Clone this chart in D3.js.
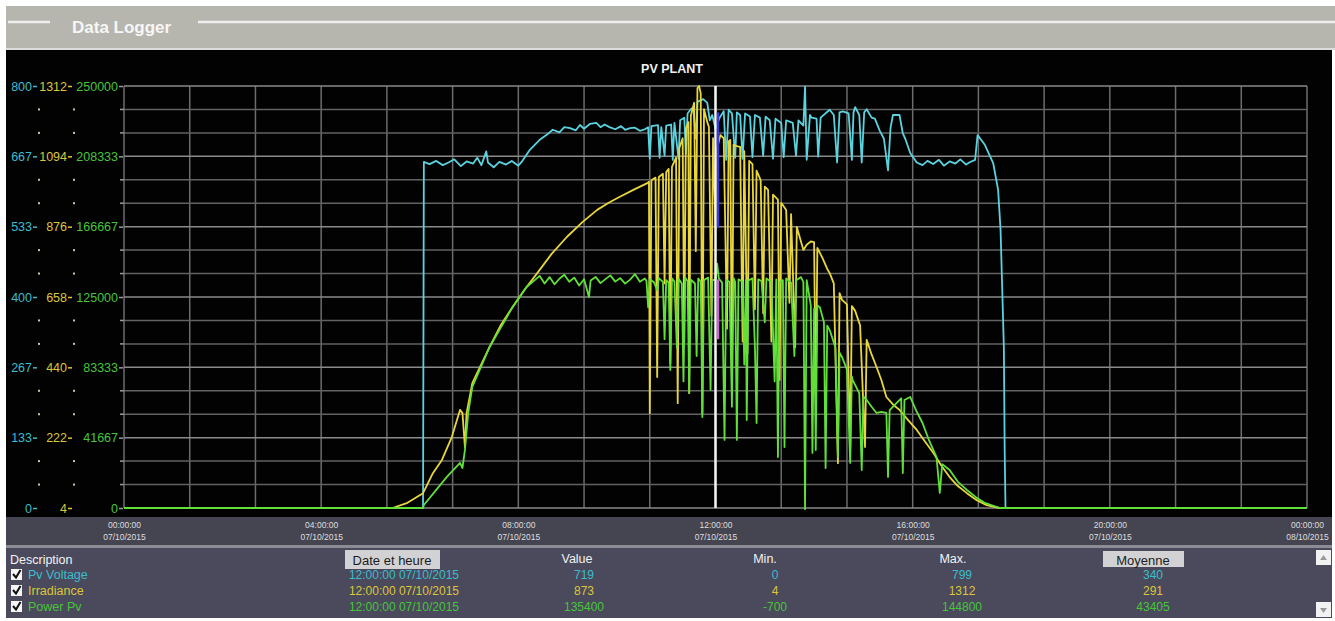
<!DOCTYPE html>
<html>
<head>
<meta charset="utf-8">
<script src="https://cdn.jsdelivr.net/npm/d3@7"></script>
<style>
    body { margin: 0; background: #fff; }
    svg { display: block; font-family: "Liberation Sans", Arial, sans-serif; }
</style>
</head>
<body>
<div id="logger"></div>
<script>
// series, [time, value]
const voltageSeries = [
    ["00:00", 0], ["06:04", 0], ["06:05", 656], ["06:12", 652], ["06:20", 658], ["06:28", 650],
    ["06:35", 655], ["06:42", 661], ["06:50", 648], ["06:57", 657], ["07:05", 653], ["07:10", 664],
    ["07:15", 650], ["07:21", 676], ["07:23", 655], ["07:30", 646], ["07:37", 656], ["07:45", 651],
    ["07:52", 658], ["08:00", 649], ["08:04", 656], ["08:14", 679], ["08:26", 698], ["08:35", 708],
    ["08:42", 717], ["08:50", 712], ["08:56", 722], ["09:03", 720], ["09:10", 716], ["09:15", 726],
    ["09:20", 719], ["09:27", 728], ["09:35", 730], ["09:40", 722], ["09:45", 727], ["09:51", 722],
    ["09:58", 718], ["10:05", 724], ["10:10", 717], ["10:16", 720], ["10:22", 721], ["10:28", 715],
    ["10:34", 718], ["10:38", 722], ["10:40", 662], ["10:42", 724], ["10:50", 726], ["10:52", 664],
    ["10:54", 722], ["10:58", 668], ["11:00", 725], ["11:06", 727], ["11:08", 660], ["11:10", 730],
    ["11:15", 662], ["11:17", 735], ["11:22", 740], ["11:24", 672], ["11:26", 748], ["11:30", 756],
    ["11:33", 760], ["11:36", 700], ["11:38", 770], ["11:45", 775], ["11:50", 768], ["11:53", 735],
    ["11:56", 745], ["12:00", 719], ["12:05", 740], ["12:10", 752], ["12:13", 660], ["12:16", 755],
    ["12:20", 748], ["12:24", 664], ["12:26", 750], ["12:30", 745], ["12:33", 662], ["12:36", 748],
    ["12:42", 742], ["12:45", 665], ["12:48", 745], ["12:54", 740], ["12:58", 668], ["13:01", 742],
    ["13:06", 735], ["13:10", 662], ["13:13", 738], ["13:20", 730], ["13:23", 665], ["13:26", 735],
    ["13:34", 730], ["13:38", 668], ["13:41", 735], ["13:47", 725], ["13:49", 799], ["13:51", 660],
    ["13:55", 745], ["13:57", 740], ["14:03", 738], ["14:05", 666], ["14:08", 740], ["14:19", 755],
    ["14:24", 745], ["14:28", 655], ["14:31", 750], ["14:35", 752], ["14:42", 748], ["14:46", 660],
    ["14:48", 750], ["14:50", 760], ["14:55", 745], ["14:58", 655], ["15:01", 750], ["15:04", 756],
    ["15:10", 740], ["15:14", 738], ["15:20", 715], ["15:25", 700], ["15:30", 640], ["15:33", 720],
    ["15:36", 745], ["15:44", 745], ["15:48", 710], ["15:51", 700], ["15:57", 673], ["16:05", 655],
    ["16:12", 650], ["16:18", 658], ["16:25", 652], ["16:32", 660], ["16:38", 649], ["16:45", 657],
    ["16:52", 653], ["16:58", 661], ["17:05", 651], ["17:10", 656], ["17:16", 660], ["17:19", 707],
    ["17:28", 688], ["17:38", 654], ["17:44", 603], ["17:47", 527], ["17:51", 305], ["17:52", 110],
    ["17:53", 0], ["24:00", 0]
];

const irradianceSeries = [
    ["00:00", 4], ["05:27", 4], ["05:45", 20], ["06:04", 50], ["06:16", 112], ["06:27", 153],
    ["06:39", 224], ["06:49", 308], ["06:52", 298], ["06:55", 193], ["06:57", 298], ["07:04", 391],
    ["07:25", 503], ["07:38", 568], ["07:53", 627], ["08:08", 682], ["08:23", 732], ["08:40", 790],
    ["08:59", 844], ["09:18", 890], ["09:36", 928], ["09:50", 950], ["10:03", 968], ["10:20", 990],
    ["10:37", 1011], ["10:39", 1015], ["10:40", 298], ["10:42", 1020], ["10:47", 1028], ["10:49", 410],
    ["10:51", 1030], ["10:56", 1040], ["10:58", 700], ["11:00", 1045], ["11:03", 1055], ["11:05", 453],
    ["11:07", 1061], ["11:12", 1090], ["11:14", 329], ["11:16", 1120], ["11:20", 1150], ["11:22", 520],
    ["11:24", 1180], ["11:27", 1200], ["11:28", 360], ["11:30", 1220], ["11:34", 1260], ["11:36", 800],
    ["11:38", 1305], ["11:40", 1312], ["11:42", 1290], ["11:44", 298], ["11:46", 1240], ["11:50", 1200],
    ["11:52", 1185], ["11:55", 600], ["11:57", 1150], ["12:00", 873], ["12:02", 1120], ["12:06", 1160],
    ["12:10", 1150], ["12:14", 560], ["12:16", 1140], ["12:18", 1145], ["12:20", 401], ["12:22", 1130],
    ["12:27", 1125], ["12:30", 1123], ["12:33", 520], ["12:35", 1110], ["12:39", 484], ["12:41", 1080],
    ["12:45", 1070], ["12:48", 620], ["12:50", 1050], ["12:55", 1020], ["12:58", 608], ["13:00", 1000],
    ["13:04", 990], ["13:08", 520], ["13:10", 975], ["13:16", 960], ["13:18", 401], ["13:20", 950],
    ["13:26", 928], ["13:30", 640], ["13:32", 915], ["13:37", 503], ["13:39", 875], ["13:44", 830],
    ["13:47", 804], ["13:51", 820], ["13:56", 830], ["14:00", 828], ["14:02", 348], ["14:04", 810],
    ["14:10", 780], ["14:16", 745], ["14:19", 732], ["14:24", 700], ["14:29", 143], ["14:31", 670],
    ["14:34", 649], ["14:40", 635], ["14:44", 193], ["14:46", 630], ["14:50", 615], ["14:56", 570],
    ["15:02", 193], ["15:04", 525], ["15:10", 480], ["15:16", 441], ["15:22", 400], ["15:28", 348],
    ["15:36", 325], ["15:44", 308], ["15:55", 275], ["16:05", 246], ["16:15", 210], ["16:25", 175],
    ["16:35", 135], ["16:45", 100], ["16:55", 72], ["17:06", 50], ["17:18", 28], ["17:30", 13],
    ["17:46", 4], ["24:00", 4]
];

const powerSeries = [
    ["00:00", 0], ["06:04", 0], ["06:05", 1800], ["06:33", 18400], ["06:49", 26700], ["06:52", 23700],
    ["06:55", 34400], ["06:59", 56300], ["07:04", 71700], ["07:25", 95400], ["07:53", 119000],
    ["08:10", 130900], ["08:20", 135000], ["08:26", 137500], ["08:32", 133000], ["08:38", 136800],
    ["08:44", 132500], ["08:50", 135800], ["08:56", 138200], ["09:02", 134000], ["09:08", 136500],
    ["09:14", 131800], ["09:20", 135500], ["09:26", 125000], ["09:28", 134800], ["09:34", 136900],
    ["09:40", 133200], ["09:46", 135600], ["09:52", 137800], ["09:58", 134100], ["10:04", 136200],
    ["10:10", 132900], ["10:16", 135300], ["10:22", 138500], ["10:28", 134000], ["10:34", 136000],
    ["10:36", 134500], ["10:38", 119000], ["10:40", 135500], ["10:45", 133800], ["10:49", 129000],
    ["10:51", 136200], ["10:56", 134000], ["10:58", 100000], ["11:00", 135000], ["11:03", 133500],
    ["11:05", 81750], ["11:07", 136000], ["11:10", 134200], ["11:13", 95000], ["11:15", 135800],
    ["11:19", 133000], ["11:21", 75000], ["11:23", 136500], ["11:26", 134500], ["11:28", 68100],
    ["11:30", 135200], ["11:35", 133000], ["11:37", 90000], ["11:39", 136000], ["11:42", 134000],
    ["11:44", 53900], ["11:46", 135000], ["11:51", 136500], ["11:54", 70000], ["11:56", 134800],
    ["12:00", 135400], ["12:02", 144800], ["12:04", 136000], ["12:08", 133500], ["12:11", 40300],
    ["12:13", 135000], ["12:17", 134000], ["12:20", 60000], ["12:22", 136200], ["12:24", 133800],
    ["12:26", 40300], ["12:28", 135500], ["12:33", 134000], ["12:35", 85000], ["12:37", 135000],
    ["12:38", 52100], ["12:40", 134800], ["12:45", 136000], ["12:48", 95000], ["12:50", 50350],
    ["12:52", 135500], ["12:56", 134500], ["13:00", 110000], ["13:02", 136000], ["13:08", 133800],
    ["13:12", 75000], ["13:14", 135500], ["13:16", 30200], ["13:18", 134000], ["13:22", 135000],
    ["13:24", 36100], ["13:26", 136000], ["13:32", 133500], ["13:36", 90000], ["13:38", 134800],
    ["13:44", 136800], ["13:47", 134000], ["13:49", -700], ["13:51", 135000], ["13:56", 120000],
    ["13:58", 32600], ["14:00", 118000], ["14:02", 34360], ["14:04", 120000], ["14:07", 119000],
    ["14:12", 110000], ["14:14", 23700], ["14:16", 108000], ["14:19", 105400], ["14:26", 95000],
    ["14:29", 30200], ["14:31", 92000], ["14:34", 89450], ["14:40", 82000], ["14:44", 26700],
    ["14:46", 78000], ["14:47", 75800], ["14:55", 68000], ["14:58", 22500], ["15:00", 66000],
    ["15:04", 64000], ["15:10", 60000], ["15:16", 56300], ["15:22", 57000], ["15:28", 56300],
    ["15:30", 18360], ["15:32", 58000], ["15:40", 62000], ["15:46", 65000], ["15:48", 20700],
    ["15:50", 64000], ["15:57", 65760], ["16:05", 57000], ["16:12", 50350], ["16:20", 40000],
    ["16:29", 30200], ["16:33", 8900], ["16:36", 26000], ["16:45", 22500], ["16:55", 15500],
    ["17:06", 10700], ["17:18", 6000], ["17:28", 3000], ["17:46", 0], ["24:00", 0]
];

const voltageDomain = [0, 800];
const irradianceDomain = [4, 1312];
const powerDomain = [0, 250000];

const seriesNames = ["Pv Voltage", "Irradiance", "Power Pv"];
const cursorStamps = ["12:00:00 07/10/2015", "12:00:00 07/10/2015", "12:00:00 07/10/2015"];
const currentValues = [719, 873, 135400];
const minValues = [0, 4, -700];
const maxValues = [799, 1312, 144800];
const meanValues = [340, 291, 43405];

/**
 * Data logger screen
 *
 * @class DataLoggerChart
 */
class DataLoggerChart {

    constructor(divName) {
        this.width = 1335;
        this.height = 621;
        this.plot = {left: 124, right: 1307, top: 86, bottom: 508};
        this.lineColors = ['#5ad3df', '#e8d63c', '#62e03a'];
        this.textColors = ['#3cbccc', '#dcc63a', '#48c43a'];
        this.svg = d3.select(`#${divName}`).append('svg')
            .attr('width', this.width)
            .attr('height', this.height);

        const day = new Date(2015, 9, 7);
        this.x = d3.scaleTime()
            .domain([day, d3.timeDay.offset(day, 1)])
            .range([this.plot.left, this.plot.right]);
        this.scales = [voltageDomain, irradianceDomain, powerDomain]
            .map(d => d3.scaleLinear().domain(d).range([this.plot.bottom, this.plot.top]));
    }

    toDate(s) {
        const [h, m] = s.split(':').map(Number);
        return new Date(2015, 9, 7, h, m);
    }

    drawFrame() {
        const svg = this.svg;
        svg.append('rect').attr('x', 6).attr('y', 6).attr('width', 1329).attr('height', 43).attr('fill', '#b6b6ae');
        svg.append('line').attr('x1', 8).attr('x2', 50).attr('y1', 22).attr('y2', 22)
            .attr('stroke', '#eeeeee').attr('stroke-width', 2.5);
        svg.append('line').attr('x1', 198).attr('x2', 1335).attr('y1', 22).attr('y2', 22)
            .attr('stroke', '#eeeeee').attr('stroke-width', 2.5);
        svg.append('text').attr('x', 72).attr('y', 33).text('Data Logger')
            .attr('fill', '#f6f6f6').attr('font-size', 17).attr('font-weight', 'bold');
        svg.append('rect').attr('x', 6).attr('y', 48).attr('width', 1329).attr('height', 2).attr('fill', '#dcdcdc');

        svg.append('rect').attr('x', 6).attr('y', 50).attr('width', 1326).attr('height', 467).attr('fill', '#020203');
        svg.append('rect').attr('x', 6).attr('y', 517).attr('width', 1326).attr('height', 28).attr('fill', '#454552');
        svg.append('rect').attr('x', 6).attr('y', 545).attr('width', 1326).attr('height', 3).attr('fill', '#8c8c96');
        svg.append('rect').attr('x', 6).attr('y', 548).attr('width', 1326).attr('height', 70).attr('fill', '#4a4a5c');

        svg.append('text').attr('x', 672).attr('y', 73)
            .attr('text-anchor', 'middle').attr('fill', '#f0f0f0')
            .attr('font-size', 12.5).attr('font-weight', 'bold').text('PV PLANT');
    }

    drawGrid() {
        const p = this.plot;
        const start = this.x.domain()[0];
        const vTicks = d3.range(19).map(i => d3.timeMinute.offset(start, i * 80));
        const yv = this.scales[0];
        const hTicks = d3.range(19).map(i => i * 800 / 18);
        const g = this.svg.append('g');

        g.selectAll('.vg').data(vTicks).join('line')
            .attr('x1', d => this.x(d)).attr('x2', d => this.x(d))
            .attr('y1', p.top).attr('y2', p.bottom)
            .attr('stroke', '#6c6c6c').attr('stroke-width', 1.5);
        g.selectAll('.hg').data(hTicks).join('line')
            .attr('x1', p.left).attr('x2', p.right)
            .attr('y1', d => yv(d)).attr('y2', d => yv(d))
            .attr('stroke', (d, i) => i % 3 === 0 ? '#8a8a8a' : '#626262')
            .attr('stroke-width', 1.5);
    }

    drawAxes() {
        const axisX = [37, 72, 123];
        const fmt = d3.format('.0f');
        this.scales.forEach((scale, k) => {
            const d = scale.domain();
            const majors = d3.range(7).map(i => d[0] + i * (d[1] - d[0]) / 6);
            const minors = d3.range(19).map(i => d[0] + i * (d[1] - d[0]) / 18).filter((v, i) => i % 3 !== 0);
            const g = this.svg.append('g')
                .attr('transform', `translate(${axisX[k]},0)`)
                .call(d3.axisLeft(scale).tickValues(majors).tickSize(4).tickPadding(1).tickFormat(fmt));
            g.select('.domain').remove();
            g.attr('font-family', null).attr('font-size', null);
            g.selectAll('line').attr('stroke', k === 2 ? '#9a9a9a' : this.textColors[k]).attr('stroke-width', 1.5);
            g.selectAll('text').attr('fill', this.textColors[k]).attr('font-size', 12.5)
                .style('font-family', '"Liberation Sans", Arial, sans-serif');
            if (k < 2) {
                g.selectAll('.minor').data(minors).join('rect').attr('class', 'minor')
                    .attr('x', 1).attr('y', v => scale(v) - 1).attr('width', 2).attr('height', 2)
                    .attr('fill', '#c8c8a8');
            } else {
                g.selectAll('.minor').data(minors).join('line').attr('class', 'minor')
                    .attr('x1', -3).attr('x2', 1).attr('y1', v => scale(v)).attr('y2', v => scale(v))
                    .attr('stroke', '#9a9a9a').attr('stroke-width', 1.5);
            }
        });

        const start = this.x.domain()[0];
        const labelTicks = d3.range(7).map(i => d3.timeHour.offset(start, i * 4));
        const fTime = d3.timeFormat('%H:%M:%S');
        const fDate = d3.timeFormat('%d/%m/%Y');
        const xg = this.svg.append('g').attr('transform', 'translate(0,518)')
            .call(d3.axisBottom(this.x).tickValues(labelTicks).tickSize(0).tickFormat(''));
        xg.select('.domain').remove();
        xg.selectAll('.tick text').remove();
        const lbl = xg.selectAll('.tick').append('text')
            .attr('fill', '#dedede').attr('font-size', 8.5).attr('text-anchor', 'middle')
            .style('font-family', '"Liberation Sans", Arial, sans-serif');
        lbl.append('tspan').attr('x', 0).attr('y', 10).text(d => fTime(d));
        lbl.append('tspan').attr('x', 0).attr('y', 22).text(d => fDate(d));
    }

    drawSeries() {
        const all = [voltageSeries, irradianceSeries, powerSeries];
        all.forEach((series, k) => {
            const line = d3.line()
                .x(d => this.x(this.toDate(d[0])))
                .y(d => this.scales[k](d[1]));
            this.svg.append('path')
                .datum(series)
                .attr('fill', 'none')
                .attr('stroke', this.lineColors[k])
                .attr('stroke-width', 1.8)
                .attr('stroke-linejoin', 'round')
                .attr('d', line);
        });

        // cursor
        const cx = this.x(this.toDate('12:00'));
        this.svg.append('line').attr('x1', cx).attr('x2', cx)
            .attr('y1', this.plot.top).attr('y2', this.plot.bottom)
            .attr('stroke', '#f4f4f4').attr('stroke-width', 2.5);
        this.svg.append('line').attr('x1', cx + 2.5).attr('x2', cx + 2.5)
            .attr('y1', this.scales[1](1230)).attr('y2', this.scales[1](currentValues[1]))
            .attr('stroke', '#3b3bd6').attr('stroke-width', 2.5);
        this.svg.append('line').attr('x1', cx + 2.5).attr('x2', cx + 2.5)
            .attr('y1', this.scales[2](currentValues[2])).attr('y2', this.scales[2](100000))
            .attr('stroke', '#c865d2').attr('stroke-width', 2.5);
    }

    drawTable() {
        const svg = this.svg;
        const head = svg.append('g').attr('fill', '#f2f2f2').attr('font-size', 12.5);
        head.append('text').attr('x', 10).attr('y', 564).text('Description');
        svg.append('rect').attr('x', 345).attr('y', 550).attr('width', 95).attr('height', 19).attr('fill', '#d2d2d4');
        svg.append('text').attr('x', 392).attr('y', 565).attr('text-anchor', 'middle')
            .attr('font-size', 13).attr('fill', '#1c1c1c').text('Date et heure');
        head.append('text').attr('x', 577).attr('y', 563).attr('text-anchor', 'middle').text('Value');
        head.append('text').attr('x', 765).attr('y', 563).attr('text-anchor', 'middle').text('Min.');
        head.append('text').attr('x', 953).attr('y', 563).attr('text-anchor', 'middle').text('Max.');
        svg.append('rect').attr('x', 1103).attr('y', 551).attr('width', 81).attr('height', 16).attr('fill', '#d2d2d4');
        svg.append('text').attr('x', 1143).attr('y', 565).attr('text-anchor', 'middle')
            .attr('font-size', 13).attr('fill', '#1c1c1c').text('Moyenne');

        const rowY = [579, 595, 611];
        seriesNames.forEach((name, i) => {
            const y = rowY[i];
            const c = this.textColors[i];
            svg.append('rect').attr('x', 11).attr('y', y - 10).attr('width', 11).attr('height', 11).attr('fill', '#f4f4f4');
            svg.append('path').attr('d', `M13,${y - 5} L16,${y - 1.5} L20.5,${y - 9}`)
                .attr('fill', 'none').attr('stroke', '#111').attr('stroke-width', 2);
            const t = svg.append('g').attr('fill', c).attr('font-size', 12);
            t.append('text').attr('x', 28).attr('y', y).attr('font-size', 12.5).text(name);
            t.append('text').attr('x', 459).attr('y', y).attr('text-anchor', 'end').text(cursorStamps[i]);
            t.append('text').attr('x', 584).attr('y', y).attr('text-anchor', 'middle').text(currentValues[i]);
            t.append('text').attr('x', 775).attr('y', y).attr('text-anchor', 'middle').text(minValues[i]);
            t.append('text').attr('x', 962).attr('y', y).attr('text-anchor', 'middle').text(maxValues[i]);
            t.append('text').attr('x', 1153).attr('y', y).attr('text-anchor', 'middle').text(meanValues[i]);
        });

        // scroll buttons
        [[550, 'M1320,560 L1323.5,555 L1327,560 Z'], [602, 'M1320,608 L1323.5,613 L1327,608 Z']].forEach(b => {
            svg.append('rect').attr('x', 1316).attr('y', b[0]).attr('width', 15).attr('height', 15).attr('fill', '#f2f2f2');
            svg.append('path').attr('d', b[1]).attr('fill', '#9a9a9a');
        });
    }

    render() {
        this.drawFrame();
        this.drawGrid();
        this.drawAxes();
        this.drawSeries();
        this.drawTable();
    }
}

new DataLoggerChart('logger').render();
</script>
</body>
</html>
